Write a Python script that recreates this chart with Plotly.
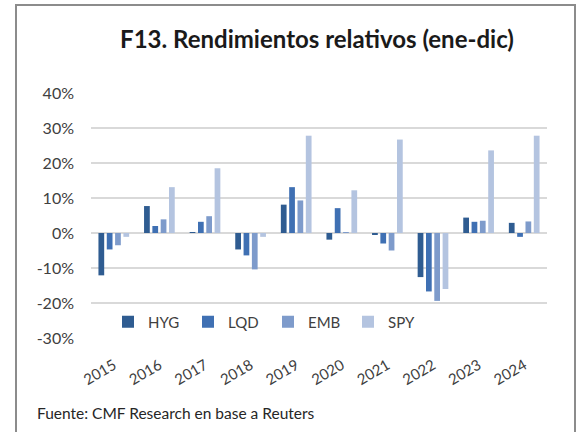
import plotly.graph_objects as go

years = ["2015", "2016", "2017", "2018", "2019", "2020", "2021", "2022", "2023", "2024"]
hyg = [-12.1, 7.7, 0.2, -4.7, 8.1, -1.9, -0.5, -12.6, 4.4, 2.9]
lqd = [-4.7, 2.0, 3.2, -6.4, 13.1, 7.1, -3.0, -16.7, 3.2, -1.1]
emb = [-3.5, 3.9, 4.8, -10.4, 9.3, 0.1, -5.0, -19.4, 3.5, 3.3]
spy = [-1.1, 13.1, 18.5, -1.1, 27.8, 12.2, 26.7, -16.0, 23.6, 27.8]

series = [("HYG", hyg, "#2F5C91"), ("LQD", lqd, "#3F70B3"),
          ("EMB", emb, "#7E9BCB"), ("SPY", spy, "#B4C4E0")]

y_ticks = [-30, -20, -10, 0, 10, 20, 30, 40]
y_labels = ["-30%", "-20%", "-10%", "0%", "10%", "20%", "30%", "40%"]

title_text = "<b>F13. Rendimientos relativos (ene-dic)</b>"
source_text = "Fuente: CMF Research en base a Reuters"

FONT = "Lato"
TXT = "#404040"

fig = go.Figure()
for name, vals, col in series:
    fig.add_trace(go.Bar(x=years, y=vals, name=name, marker_color=col,
                         marker_line_width=0))

L, R, T, B = 91, 34, 93, 94
W, H = 581, 432
pw = W - L - R
ph = H - T - B

def px_x(p):
    return (p - L) / pw

def px_y(p):
    return (H - B - p) / ph

fig.update_layout(
    width=W, height=H,
    margin=dict(l=L, r=R, t=T, b=B),
    paper_bgcolor="white", plot_bgcolor="white",
    barmode="group", bargap=0.27, bargroupgap=0.31,
    font=dict(family=FONT, color=TXT, size=15),
    title=dict(text=title_text, x=317 / W, xanchor="center", xref="container",
               y=1 - 40 / H, yanchor="middle", yref="container",
               font=dict(family=FONT, size=24, color="#1a1a1a")),
    showlegend=True,
    legend=dict(orientation="h", x=px_x(108), xanchor="left",
                y=px_y(322), yanchor="middle", bgcolor="rgba(0,0,0,0)",
                font=dict(size=15, color=TXT), entrywidth=35,
                traceorder="normal"),
    xaxis=dict(showgrid=False, showline=False, ticks="", tickangle=-30,
               ticklabelstandoff=15,
               tickfont=dict(size=15, color=TXT)),
    yaxis=dict(range=[-30, 40], tickvals=y_ticks, ticktext=y_labels,
               showgrid=True, gridcolor="#D9D9D9", gridwidth=1.5,
               zeroline=True, zerolinecolor="#D9D9D9", zerolinewidth=1.5,
               showline=False, ticks="", ticklabelstandoff=16,
               tickfont=dict(size=16, color=TXT)),
)

fig.add_shape(type="rect", xref="paper", yref="paper",
              x0=px_x(16), x1=px_x(575), y0=px_y(440), y1=px_y(5),
              line=dict(color="#8C8C8C", width=2), fillcolor="rgba(0,0,0,0)",
              layer="below")

fig.add_annotation(text=source_text, xref="paper", yref="paper",
                   x=px_x(35), xanchor="left", y=px_y(413), yanchor="middle",
                   showarrow=False, font=dict(size=15.5, color="#262626", family=FONT))

fig.write_html("out.html", config={"displayModeBar": False},
               post_script="document.body.style.margin='0px';")
